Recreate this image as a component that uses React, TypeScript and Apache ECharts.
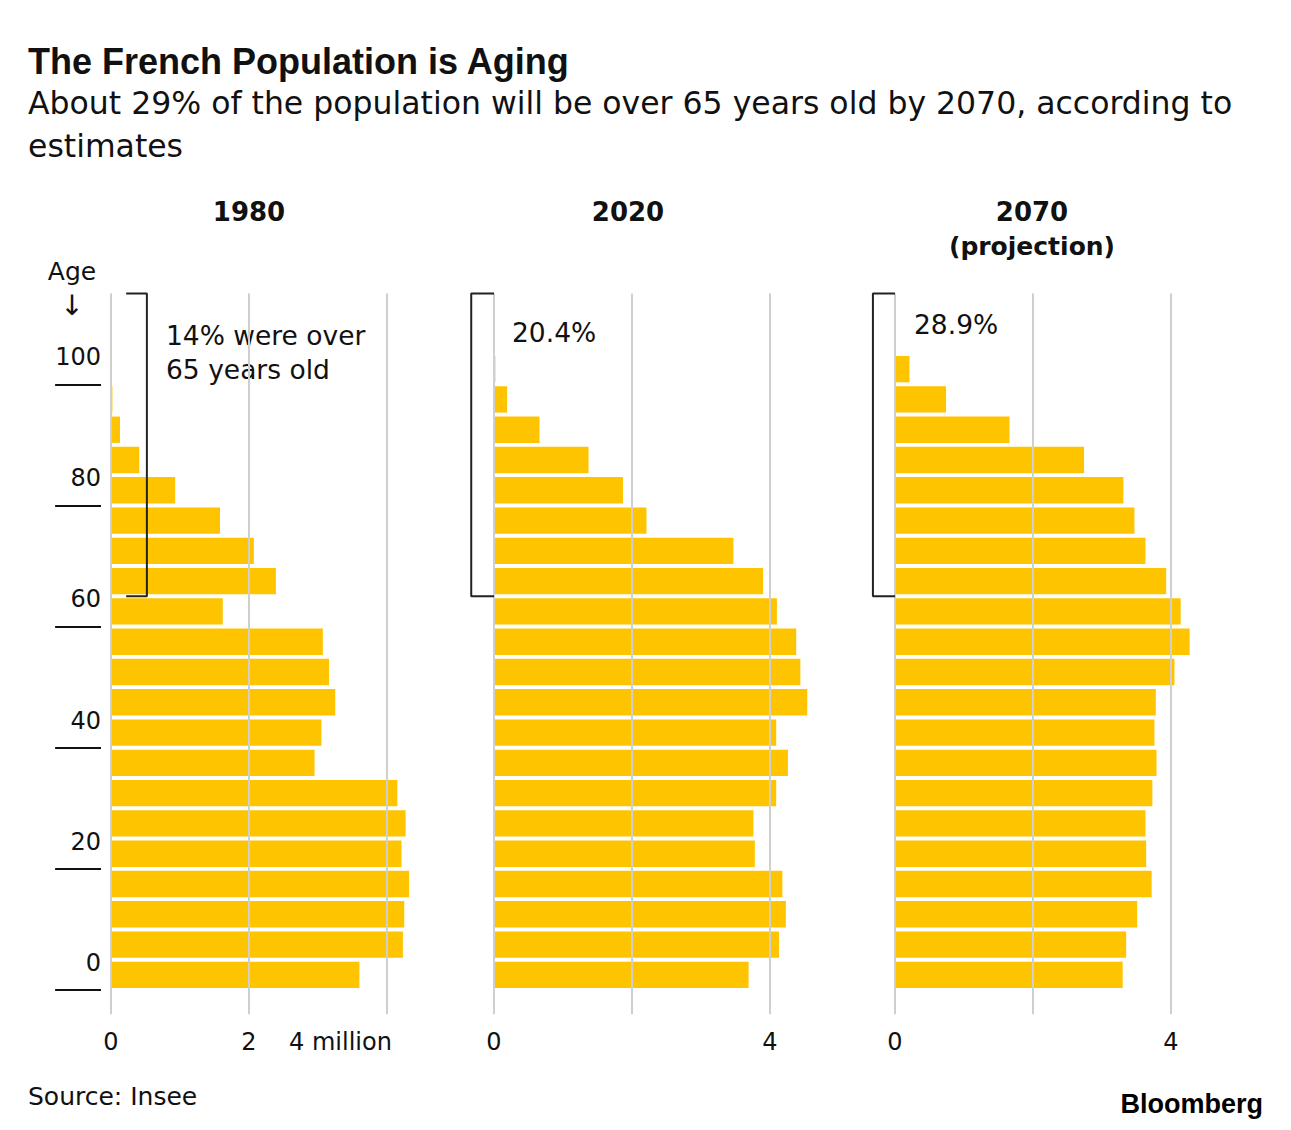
import React, { useEffect, useRef } from 'react';
import * as echarts from 'echarts';

const ageGroups = ['0-4', '5-9', '10-14', '15-19', '20-24', '25-29', '30-34', '35-39', '40-44', '45-49', '50-54', '55-59', '60-64', '65-69', '70-74', '75-79', '80-84', '85-89', '90-94', '95-99', '100+'];

// population in millions per age group (bottom = youngest)
const pop1980 = [3.60, 4.23, 4.25, 4.32, 4.21, 4.27, 4.15, 2.95, 3.05, 3.25, 3.16, 3.07, 1.62, 2.39, 2.07, 1.58, 0.93, 0.41, 0.13, 0.02, 0];
const pop2020 = [3.69, 4.13, 4.23, 4.18, 3.78, 3.76, 4.09, 4.26, 4.09, 4.54, 4.44, 4.38, 4.10, 3.90, 3.47, 2.21, 1.87, 1.37, 0.66, 0.19, 0.02];
const pop2070 = [3.30, 3.35, 3.51, 3.72, 3.64, 3.63, 3.73, 3.79, 3.76, 3.78, 4.05, 4.27, 4.14, 3.93, 3.63, 3.47, 3.31, 2.74, 1.66, 0.74, 0.21];

const panelYears = ['1980', '2020', '2070'];
const panelSubtitles = ['', '', '(projection)'];
const over65Notes = ['14% were over\n65 years old', '20.4%', '28.9%'];
const gridValues = [0, 2, 4];
const xLabelValues = [[0, 2, 4], [0, 4], [0, 4]];
const ageTickValues = [0, 20, 40, 60, 80, 100];
const ageLabelEvery = 4; // one label each 20 years

// bracket spans (x in millions, y in years of age)
const bracketX = [[0.22, 0.52], [0, -0.33], [0, -0.32]];
const bracketAgeTop = 115;
const bracketAgeBottom = 65;
const ageTickX = [-0.81, -0.145];

const REG = "'DejaVu Sans', sans-serif";
const BOLD = "'Liberation Sans', Arial, sans-serif";
const YELLOW = '#FFC400';
const INK = '#111111';

export default function App() {
  const ref = useRef<HTMLDivElement>(null);

  useEffect(() => {
    document.body.style.margin = '0';
    const chart = echarts.init(ref.current!, null, { renderer: 'svg' });

    const datasets = [pop1980, pop2020, pop2070];
    const lefts = [111, 494, 895];
    const pxPerM = 69;
    const maxX = 5;
    const minBg = -1;

    const grids: any[] = [];
    const xAxes: any[] = [];
    const yAxes: any[] = [];
    const series: any[] = [];

    // background grids (lines, x labels, brackets) : y in years of age
    lefts.forEach((left, i) => {
      grids.push({ left: left + minBg * pxPerM, width: (maxX - minBg) * pxPerM, top: 293.4, height: 720.8 });
      xAxes.push({
        gridIndex: i,
        type: 'value',
        min: minBg,
        max: maxX,
        interval: 1,
        axisLine: { show: false },
        axisTick: { show: false },
        splitLine: { show: false },
        axisLabel: {
          margin: 16,
          fontSize: 24,
          color: INK,
          fontFamily: REG,
          formatter: (v: number) => {
            if (!xLabelValues[i].includes(v)) return '';
            if (i === 0 && v === 4) return '{m|4 million}';
            return String(v);
          },
          rich: { m: { fontSize: 24, fontFamily: REG, color: INK, padding: [0, 93, 0, 0] } },
        },
      });
      yAxes.push({ gridIndex: i, type: 'value', min: -4, max: 115, show: false });
    });

    // bar grids
    lefts.forEach((left, i) => {
      grids.push({ left, width: maxX * pxPerM, top: 354, height: 636 });
      xAxes.push({ gridIndex: i + 3, type: 'value', min: 0, max: maxX, show: false });
      yAxes.push({
        gridIndex: i + 3,
        type: 'category',
        data: ageGroups,
        show: i === 0,
        offset: 10,
        axisLine: { show: false },
        splitLine: { show: false },
        axisTick: { show: false },
        axisLabel: {
          interval: (idx: number) => idx % ageLabelEvery === 0,
          margin: 0,
          verticalAlign: 'bottom',
          fontSize: 24,
          color: INK,
          fontFamily: REG,
          formatter: (v: string) => v.split('-')[0].replace('+', ''),
        },
      });
    });

    lefts.forEach((_, i) => {
      // gridlines (+ age ticks on the first panel)
      const mlData: any[] = gridValues.map((v) => ({ xAxis: v }));
      if (i === 0) {
        ageTickValues.forEach((a) => {
          mlData.push([
            { coord: [ageTickX[0], a], lineStyle: { color: INK, width: 2 } },
            { coord: [ageTickX[1], a] },
          ]);
        });
      }
      series.push({
        type: 'line',
        xAxisIndex: i,
        yAxisIndex: i,
        data: [],
        z: 1,
        silent: true,
        markLine: {
          silent: true,
          symbol: 'none',
          label: { show: false },
          lineStyle: { color: '#cfcfcf', width: 2, type: 'solid' },
          data: mlData,
        },
      });
      // bars
      series.push({
        type: 'bar',
        name: panelYears[i],
        xAxisIndex: i + 3,
        yAxisIndex: i + 3,
        data: datasets[i],
        barCategoryGap: '13%',
        itemStyle: { color: YELLOW },
        z: 2,
        silent: true,
      });
      // bracket for 65+
      const [x0, x1] = bracketX[i];
      series.push({
        type: 'line',
        xAxisIndex: i,
        yAxisIndex: i,
        data: [[x0, bracketAgeTop], [x1, bracketAgeTop], [x1, bracketAgeBottom], [x0, bracketAgeBottom]],
        symbol: 'none',
        clip: false,
        lineStyle: { color: '#222', width: 2 },
        z: 5,
        silent: true,
      });
    });

    const panelCenters = [249, 628, 1032];
    const notePos = [[166, 352], [512, 332], [914, 324]];

    const graphic: any[] = [
      {
        type: 'text', x: 28, y: 61,
        style: { text: 'The French Population is Aging', fill: INK, fontSize: 36, fontWeight: 'bold', fontFamily: BOLD, align: 'left', verticalAlign: 'middle' },
      },
      {
        type: 'text', x: 28, y: 124.5,
        style: { text: 'About 29% of the population will be over 65 years old by 2070, according to\nestimates', fill: INK, fontSize: 31.5, lineHeight: 43, fontFamily: REG, align: 'left', verticalAlign: 'middle' },
      },
      {
        type: 'text', x: 72, y: 271,
        style: { text: 'Age', fill: INK, fontSize: 25, fontFamily: REG, align: 'center', verticalAlign: 'middle' },
      },
      {
        type: 'text', x: 72, y: 305,
        style: { text: '↓', fill: INK, fontSize: 28, fontFamily: REG, align: 'center', verticalAlign: 'middle' },
      },
      {
        type: 'text', x: 28, y: 1096,
        style: { text: 'Source: Insee', fill: INK, fontSize: 25, fontFamily: REG, align: 'left', verticalAlign: 'middle' },
      },
      {
        type: 'text', x: 1263, y: 1104,
        style: { text: 'Bloomberg', fill: '#000', fontSize: 27, fontWeight: 'bold', fontFamily: "'Liberation Sans Narrow', 'Liberation Sans', sans-serif", align: 'right', verticalAlign: 'middle' },
      },
    ];
    panelYears.forEach((yr, i) => {
      const sub = panelSubtitles[i];
      graphic.push({
        type: 'text', x: panelCenters[i], y: sub ? 229 : 212,
        style: {
          text: sub ? `{a|${yr}}\n{b|${sub}}` : `{a|${yr}}`,
          align: 'center', verticalAlign: 'middle',
          rich: {
            a: { fontSize: 26, fontWeight: 'bold', fontFamily: REG, fill: INK, lineHeight: 34, align: 'center' },
            b: { fontSize: 25, fontWeight: 'bold', fontFamily: REG, fill: INK, lineHeight: 34, align: 'center' },
          },
        },
      });
      graphic.push({
        type: 'text', x: notePos[i][0], y: notePos[i][1],
        style: { text: over65Notes[i], fill: INK, fontSize: 26.5, lineHeight: 34, fontFamily: REG, align: 'left', verticalAlign: 'middle' },
      });
    });

    chart.setOption({
      animation: false,
      backgroundColor: '#ffffff',
      grid: grids,
      xAxis: xAxes,
      yAxis: yAxes,
      series,
      graphic,
    });

    return () => chart.dispose();
  }, []);

  return <div ref={ref} style={{ width: 1291, height: 1130 }} />;
}
